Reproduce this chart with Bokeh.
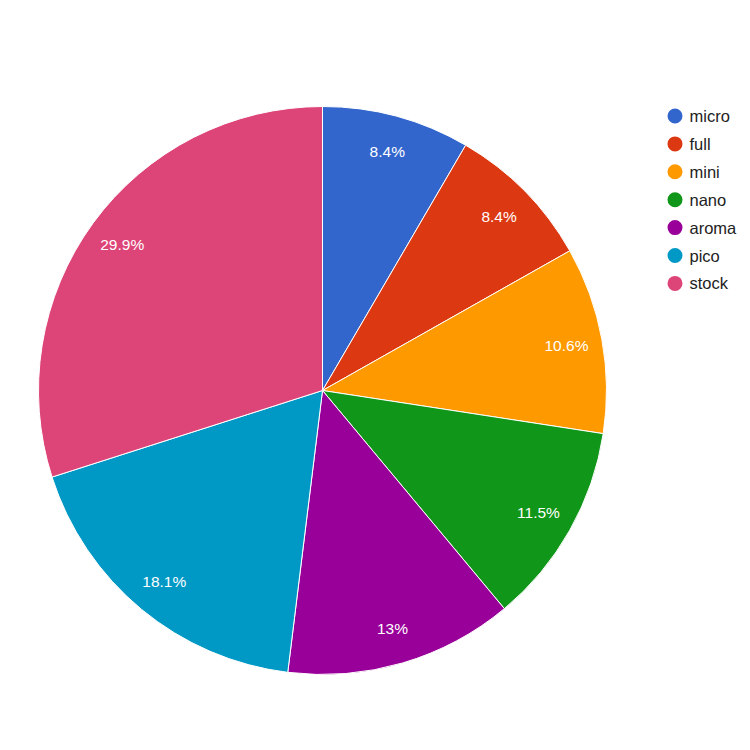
import math
from bokeh.plotting import figure
from bokeh.models import Range1d, ColumnDataSource
from bokeh.core.properties import value
from bokeh.embed import file_html
from bokeh.resources import INLINE

categories = ["micro", "full", "mini", "nano", "aroma", "pico", "stock"]
shares = [8.4, 8.4, 10.6, 11.5, 13, 18.1, 29.9]
colors = ["#3366cc", "#dc3912", "#ff9900", "#109618", "#990099", "#0099c6", "#dd4477"]

W, H = 742, 734
p = figure(width=W, height=H, output_backend="svg", toolbar_location=None,
           x_range=Range1d(0, W), y_range=Range1d(-H, 0),
           min_border=0, outline_line_color=None)
p.axis.visible = False
p.grid.visible = False
p.background_fill_color = "white"

cx, cy, R = 322, -390, 284
total = sum(shares)
starts, ends, lx, ly, labels = [], [], [], [], []
cum = 0.0
for v in shares:
    a0 = math.pi / 2 - 2 * math.pi * cum / total
    cum += v
    a1 = math.pi / 2 - 2 * math.pi * cum / total
    starts.append(a0)
    ends.append(a1)
    mid = (a0 + a1) / 2
    lx.append(cx + 248 * math.cos(mid))
    ly.append(cy + 248 * math.sin(mid))
    labels.append(f"{v:g}%")

src = ColumnDataSource(dict(start=starts, end=ends, color=colors, lx=lx, ly=ly, label=labels))
p.wedge(x=cx, y=cy, radius=R, start_angle="start", end_angle="end", direction="clock",
        fill_color="color", line_color="white", line_width=1, source=src)
p.text(x="lx", y="ly", text="label", source=src, text_color="white",
       text_font=value("Liberation Sans"), text_font_size="15.5px",
       text_align="center", text_baseline="middle")

leg_y = [-(115.5 + 27.9 * i) for i in range(len(categories))]
leg = ColumnDataSource(dict(y=leg_y, color=colors, name=categories))
p.scatter(x=674.5, y="y", size=15, marker="circle", fill_color="color", line_color=None, source=leg)
p.text(x=689, y="y", text="name", source=leg, text_color="#222222",
       text_font=value("Liberation Sans"), text_font_size="16.5px",
       text_align="left", text_baseline="middle")

open("out.html", "w").write(file_html(p, INLINE))
